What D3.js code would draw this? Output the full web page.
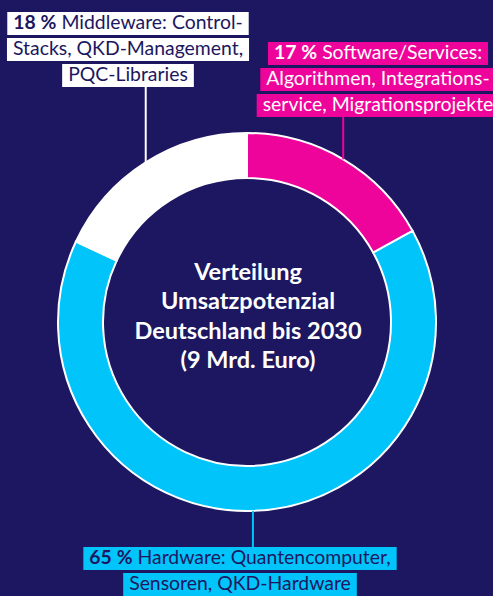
<!DOCTYPE html>
<html>
<head>
<meta charset="utf-8">
<script src="https://cdn.jsdelivr.net/npm/d3@7"></script>
<style>
  html, body { margin: 0; padding: 0; background: #1c1760; }
  svg { display: block; }
</style>
</head>
<body>
<div id="chart"></div>
<script>
// segment data, clockwise from 12 o'clock
var segments = ["Software/Services", "Hardware", "Middleware"];
var shares = [17, 65, 18];
var descriptions = [
  ["Software/Services:", "Algorithmen, Integrations-", "service, Migrationsprojekte"],
  ["Hardware: Quantencomputer,", "Sensoren, QKD-Hardware"],
  ["Middleware: Control-", "Stacks, QKD-Management,", "PQC-Libraries"]
];
var centerTitle = ["Verteilung", "Umsatzpotenzial", "Deutschland bis 2030", "(9 Mrd. Euro)"];

var width = 493, height = 596;
var cx = 247, cy = 322;
var outerR = 189, innerR = 144;

var navy = "#1c1760";
var colors = d3.scaleOrdinal().domain(segments).range(["#ef049b", "#00c4fa", "#ffffff"]);
var textColors = d3.scaleOrdinal().domain(segments).range(["#ffffff", navy, navy]);

// where each label block sits (center x, top of first box) and which side the ring is on
var labelLayout = {
  "Software/Services": { x: 378, top: 42, below: true },
  "Hardware": { x: 240, top: 547, below: false },
  "Middleware": { x: 128, top: 12, below: true }
};
var linePitch = 26, boxH = 23, padX = 6;

var svg = d3.select("#chart").append("svg")
  .attr("width", width)
  .attr("height", height);

svg.append("rect").attr("width", width).attr("height", height).attr("fill", navy);

var pie = d3.pie().sort(null).value(function (d, i) { return shares[i]; });
var arcs = pie(segments);

var arc = d3.arc().innerRadius(innerR).outerRadius(outerR);

var ring = svg.append("g").attr("transform", "translate(" + cx + "," + cy + ")");

ring.selectAll("path")
  .data(arcs)
  .enter()
  .append("path")
  .attr("d", arc)
  .attr("fill", function (d) { return colors(d.data); })
  .attr("stroke", "#ffffff")
  .attr("stroke-width", 2);

// centre title
var title = svg.append("text")
  .attr("text-anchor", "middle")
  .style("font-family", "Lato, 'Open Sans', sans-serif")
  .style("font-weight", 700)
  .style("font-size", "23.5px")
  .attr("fill", "#ffffff");
centerTitle.forEach(function (t, i) {
  title.append("tspan").attr("x", cx + 1).attr("y", cy - 42 + i * 29.3).text(t);
});

// labels + leader lines
arcs.forEach(function (a, i) {
  var name = a.data;
  var lay = labelLayout[name];
  var mid = (a.startAngle + a.endAngle) / 2;
  var px = cx + outerR * Math.sin(mid);
  var py = cy - outerR * Math.cos(mid);
  var lines = descriptions[i];
  var nLines = lines.length;

  var boxEdge = lay.below ? lay.top + (nLines - 1) * linePitch + boxH : lay.top;
  svg.append("line")
    .attr("x1", px).attr("x2", px)
    .attr("y1", boxEdge).attr("y2", py)
    .attr("stroke", colors(name))
    .attr("stroke-width", 2);

  var g = svg.append("g")
    .style("font-family", "Lato, 'Open Sans', sans-serif")
    .style("font-size", "19.4px");

  lines.forEach(function (line, j) {
    var y0 = lay.top + j * linePitch;
    var box = g.append("rect")
      .attr("y", y0)
      .attr("height", boxH)
      .attr("fill", colors(name));
    var txt = g.append("text")
      .attr("x", lay.x)
      .attr("y", y0 + 17)
      .attr("text-anchor", "middle")
      .attr("fill", textColors(name));
    if (j === 0) {
      txt.append("tspan").style("font-weight", 700).text(shares[i] + "\u202F%");
      txt.append("tspan").text(" " + line);
    } else {
      txt.text(line);
    }
    var w = txt.node().getComputedTextLength();
    box.attr("x", lay.x - w / 2 - padX).attr("width", w + 2 * padX);
  });
});
</script>
</body>
</html>
